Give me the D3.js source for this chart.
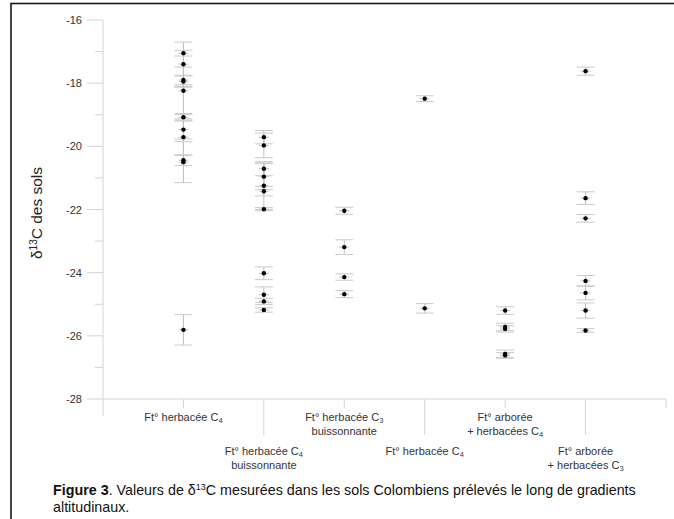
<!DOCTYPE html>
<html><head><meta charset="utf-8">
<script src="https://cdn.jsdelivr.net/npm/d3@7"></script>
<style>
body{margin:0;background:#fff;}
svg text{font-family:"Liberation Sans",Arial,sans-serif;}
</style></head>
<body><svg id="c" width="674" height="519"></svg>
<script>
// ---- data ----
const categories = [
  ["Ft° herbacée C|4"],
  ["Ft° herbacée C|4", "buissonnante"],
  ["Ft° herbacée C|3", "buissonnante"],
  ["Ft° herbacée C|4"],
  ["Ft° arborée", "+ herbacées C|4"],
  ["Ft° arborée", "+ herbacées C|3"]
];
const labelRow = [0, 1, 0, 1, 0, 1];
const values = [
  [-17.05, -17.40, -17.90, -17.95, -18.24, -19.08, -19.47, -19.71, -20.44, -20.50, -25.81],
  [-19.71, -19.97, -20.71, -20.96, -21.25, -21.42, -21.99, -24.02, -24.70, -24.91, -25.18],
  [-22.04, -23.19, -24.14, -24.68],
  [-18.49, -25.13],
  [-25.20, -25.72, -25.78, -26.57, -26.62],
  [-17.62, -21.64, -22.28, -24.26, -24.64, -25.20, -25.83]
];
const errors = [
  [0.09, 0.70, 0.15, 0.18, 0.75, 0.12, 0.30, 0.58, 0.17, 0.65, 0.48],
  [0.21, 0.39, 0.22, 0.41, 0.75, 0.15, 0.05, 0.20, 0.25, 0.10, 0.07],
  [0.11, 0.23, 0.10, 0.11],
  [0.09, 0.15],
  [0.12, 0.12, 0.10, 0.12, 0.09],
  [0.13, 0.20, 0.12, 0.17, 0.22, 0.24, 0.06]
];
const yTicks = [-16, -18, -20, -22, -24, -26, -28];
const yMinor = [-17, -19, -21, -23, -25, -27];
const yTitle = ["δ", "13", "C des sols"];
const captionBold = "Figure 3";
const captionLine1 = ". Valeurs de δ|13|C mesurées dans les sols Colombiens prélevés le long de gradients";
const captionLine2 = "altitudinaux.";

// ---- drawing ----
const svg = d3.select("#c");
const x = d3.scaleLinear().domain([0, 7]).range([103, 666]);
const y = d3.scaleLinear().domain([-28, -16]).range([399, 20]);

// frame
svg.append("rect").attr("x", 11).attr("y", 3.5).attr("width", 700).attr("height", 600)
  .attr("fill", "none").attr("stroke", "#1a1a1a").attr("stroke-width", 1.6);

const axisCol = "#d4d4d4";
svg.append("line").attr("x1", x(0)).attr("x2", x(0)).attr("y1", y(-16)).attr("y2", 416)
  .attr("stroke", axisCol);
svg.append("line").attr("x1", x(0)).attr("x2", x(7)).attr("y1", y(-28)).attr("y2", y(-28))
  .attr("stroke", axisCol);

// y ticks
const gy = svg.append("g");
gy.selectAll("line.maj").data(yTicks).join("line")
  .attr("x1", x(0) - 16).attr("x2", x(0)).attr("y1", d => y(d)).attr("y2", d => y(d))
  .attr("stroke", axisCol);
gy.selectAll("line.min").data(yMinor).join("line")
  .attr("x1", x(0) - 8).attr("x2", x(0)).attr("y1", d => y(d)).attr("y2", d => y(d))
  .attr("stroke", axisCol);
gy.selectAll("text").data(yTicks).join("text")
  .attr("x", 82).attr("y", d => y(d) + 4).attr("text-anchor", "end")
  .attr("font-size", 11).attr("fill", "#333").text(d => d);

// x ticks
const xt = d3.range(1, 8);
svg.selectAll("line.xt").data(xt).join("line")
  .attr("x1", d => x(d)).attr("x2", d => x(d)).attr("y1", y(-28))
  .attr("y2", d => (d <= 6 && labelRow[d - 1] === 1) ? 435 : 408)
  .attr("stroke", axisCol);

function richText(sel, str, small, shift) {
  const parts = str.split("|");
  parts.forEach((p, i) => {
    const t = sel.append("tspan").text(p);
    if (i % 2 === 1) t.attr("font-size", small).attr("baseline-shift", shift);
  });
}

// x labels
categories.forEach((lines, i) => {
  const cx = x(i + 1);
  const base = labelRow[i] === 0 ? 421 : 455;
  lines.forEach((ln, j) => {
    const t = svg.append("text").attr("x", cx).attr("y", base + j * 14)
      .attr("text-anchor", "middle").attr("font-size", 11).attr("fill", "#333");
    richText(t, ln, 7.5, "-2");
  });
});

// error bars & points
const capW = 9;
values.forEach((vals, i) => {
  const cx = x(i + 1);
  const g = svg.append("g");
  const data = vals.map((v, k) => ({v, e: errors[i][k]}));
  g.selectAll("line.v").data(data).join("line")
    .attr("x1", cx).attr("x2", cx).attr("y1", d => y(d.v + d.e)).attr("y2", d => y(d.v - d.e))
    .attr("stroke", "#bdbdbd");
  g.selectAll("line.t").data(data).join("line")
    .attr("x1", cx - capW).attr("x2", cx + capW).attr("y1", d => y(d.v + d.e)).attr("y2", d => y(d.v + d.e))
    .attr("stroke", "#cacaca");
  g.selectAll("line.b").data(data).join("line")
    .attr("x1", cx - capW).attr("x2", cx + capW).attr("y1", d => y(d.v - d.e)).attr("y2", d => y(d.v - d.e))
    .attr("stroke", "#cacaca");
  g.selectAll("line.m").data(data).join("line")
    .attr("x1", cx - 5).attr("x2", cx + 5).attr("y1", d => y(d.v)).attr("y2", d => y(d.v))
    .attr("stroke", "#c4c4c4");
  g.selectAll("circle").data(data).join("circle")
    .attr("cx", cx).attr("cy", d => y(d.v)).attr("r", 2.2).attr("fill", "#000");
});

// y title
const yt = svg.append("text").attr("transform", "translate(42,213) rotate(-90)")
  .attr("text-anchor", "middle").attr("font-size", 15.5).attr("fill", "#222");
yt.append("tspan").text(yTitle[0]);
yt.append("tspan").text(yTitle[1]).attr("font-size", 10).attr("baseline-shift", "5");
yt.append("tspan").text(yTitle[2]);

// caption
const c1 = svg.append("text").attr("x", 53).attr("y", 495).attr("font-size", 14.3).attr("fill", "#111");
c1.append("tspan").text(captionBold).attr("font-weight", "bold");
captionLine1.split("|").forEach((p, i) => {
  const t = c1.append("tspan").text(p);
  if (i === 1) t.attr("font-size", 9).attr("baseline-shift", "5");
});
svg.append("text").attr("x", 53).attr("y", 512).attr("font-size", 14.3).attr("fill", "#111").text(captionLine2);
</script></body></html>
